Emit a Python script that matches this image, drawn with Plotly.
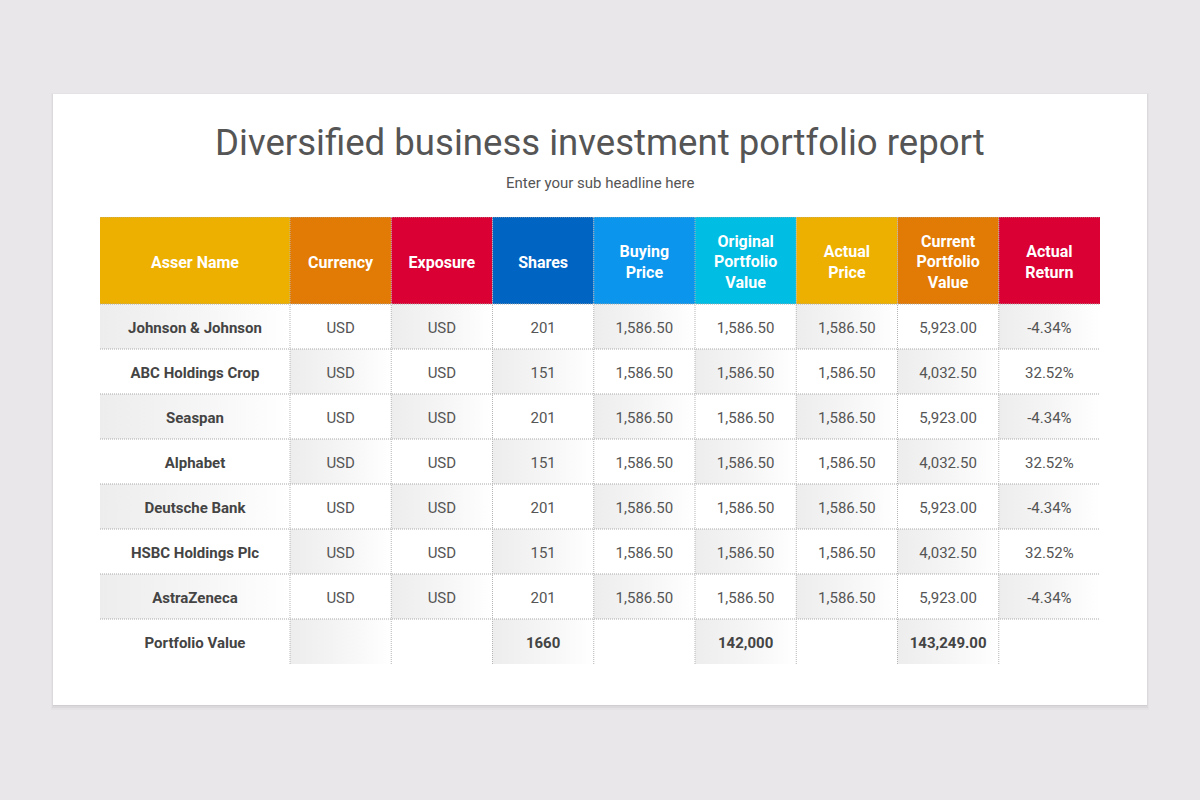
import plotly.graph_objects as go

# data
headers = ["Asser Name", "Currency", "Exposure", "Shares", "Buying<br>Price",
           "Original<br>Portfolio<br>Value", "Actual<br>Price",
           "Current<br>Portfolio<br>Value", "Actual<br>Return"]
header_colors = ["#EDB001", "#E27B05", "#DA0034", "#0064C3", "#0B95EC",
                 "#00BDE3", "#EDB001", "#E27B05", "#DA0034"]

assets = ["Johnson & Johnson", "ABC Holdings Crop", "Seaspan", "Alphabet",
          "Deutsche Bank", "HSBC Holdings Plc", "AstraZeneca"]
currency = ["USD", "USD", "USD", "USD", "USD", "USD", "USD"]
exposure = ["USD", "USD", "USD", "USD", "USD", "USD", "USD"]
shares = [201, 151, 201, 151, 201, 151, 201]
buying_price = [1586.50, 1586.50, 1586.50, 1586.50, 1586.50, 1586.50, 1586.50]
original_value = [1586.50, 1586.50, 1586.50, 1586.50, 1586.50, 1586.50, 1586.50]
actual_price = [1586.50, 1586.50, 1586.50, 1586.50, 1586.50, 1586.50, 1586.50]
current_value = [5923.00, 4032.50, 5923.00, 4032.50, 5923.00, 4032.50, 5923.00]
actual_return = [-4.34, 32.52, -4.34, 32.52, -4.34, 32.52, -4.34]

total_label = "Portfolio Value"
total_shares = 1660
total_original = 142000
total_current = 143249.00

money = lambda v: f"{v:,.2f}"

columns = [
    assets + [total_label],
    currency + [""],
    exposure + [""],
    [str(s) for s in shares] + [str(total_shares)],
    [money(v) for v in buying_price] + [""],
    [money(v) for v in original_value] + [f"{total_original:,}"],
    [money(v) for v in actual_price] + [""],
    [money(v) for v in current_value] + [money(total_current)],
    [f"{v:.2f}%" for v in actual_return] + [""],
]

# layout of the grid (table units = pixels)
col_w = [190] + [101.25] * 8
row_h = [87] + [45] * len(columns[0])
xe = [0]
for w in col_w:
    xe.append(xe[-1] + w)
ye = [0]
for h in row_h:
    ye.append(ye[-1] + h)
n_rows = len(columns[0])
n_cols = len(columns)
text_dy = 2.5  # nudge text down to sit in the middle of the cell

fig = go.Figure()

# header cells
for c in range(n_cols):
    fig.add_trace(go.Scatter(
        x=[xe[c], xe[c + 1], xe[c + 1], xe[c], xe[c]],
        y=[ye[0], ye[0], ye[1], ye[1], ye[0]],
        mode="lines", line_width=0, fill="toself", fillcolor=header_colors[c],
        hoverinfo="skip"))

# shaded body cells (checkerboard, light grey fading to white)
for c in range(n_cols):
    for r in range(n_rows):
        if (r + c) % 2 == 0:
            fig.add_trace(go.Scatter(
                x=[xe[c], xe[c + 1], xe[c + 1], xe[c], xe[c]],
                y=[ye[r + 1], ye[r + 1], ye[r + 2], ye[r + 2], ye[r + 1]],
                mode="lines", line_width=0, fill="toself",
                fillgradient=dict(type="horizontal",
                                  colorscale=[[0, "#ededed"], [0.5, "#f5f5f5"], [1, "#ffffff"]]),
                hoverinfo="skip"))

# header text
fig.add_trace(go.Scatter(
    x=[(xe[c] + xe[c + 1]) / 2 for c in range(n_cols)],
    y=[(ye[0] + ye[1]) / 2 + text_dy + 0.5] * n_cols,
    text=[f"<b>{h}</b>" for h in headers],
    mode="text", textposition="middle center",
    textfont=dict(family="Roboto", size=16, color="#ffffff"),
    hoverinfo="skip"))

# body text
tx, ty, tt, tc = [], [], [], []
for c in range(n_cols):
    for r in range(n_rows):
        s = columns[c][r]
        if s == "":
            continue
        tx.append((xe[c] + xe[c + 1]) / 2)
        ty.append((ye[r + 1] + ye[r + 2]) / 2 + text_dy)
        tt.append(f"<b>{s}</b>" if (c == 0 or r == n_rows - 1) else s)
        tc.append("#444444" if (c == 0 or r == n_rows - 1) else "#555555")
fig.add_trace(go.Scatter(
    x=tx, y=ty, text=tt, mode="text", textposition="middle center",
    textfont=dict(family="Roboto", size=15, color=tc),
    hoverinfo="skip"))

# dotted grid lines
for r in range(n_rows + 1):
    fig.add_shape(type="line", xref="x", yref="y", x0=xe[0], x1=xe[-1], y0=ye[r], y1=ye[r],
                  line=dict(color="#a9a9a9", width=1, dash="1px,1px"))
for c in range(1, n_cols):
    fig.add_shape(type="line", xref="x", yref="y", x0=xe[c], x1=xe[c], y0=ye[0], y1=ye[-1],
                  line=dict(color="#b5b5b5", width=1, dash="1px,1px"))

# card with soft shadow
for i, a in enumerate([0.05, 0.035, 0.02]):
    fig.add_shape(type="rect", xref="paper", yref="paper",
                  x0=(53 - i) / 1200, x1=(1147 + i) / 1200,
                  y0=1 - (706 + 2 * i) / 800, y1=1 - (95 - i) / 800,
                  fillcolor=f"rgba(0,0,0,{a})", line_width=0, layer="below")
fig.add_shape(type="rect", xref="paper", yref="paper",
              x0=53 / 1200, x1=1147 / 1200, y0=1 - 705 / 800, y1=1 - 94 / 800,
              fillcolor="#ffffff", line_width=0, layer="below")

fig.add_annotation(text="Diversified business investment portfolio report",
                   xref="paper", yref="paper", x=0.5, y=1 - 142 / 800, yanchor="middle",
                   showarrow=False, font=dict(family="Roboto", size=36.6, color="#555555"))
fig.add_annotation(text="Enter your sub headline here",
                   xref="paper", yref="paper", x=0.5, y=1 - 183 / 800, yanchor="middle",
                   showarrow=False, font=dict(family="Roboto", size=15, color="#555555"))

fig.update_layout(
    width=1200, height=800,
    margin=dict(l=0, r=0, t=0, b=0),
    paper_bgcolor="#e9e7e9",
    plot_bgcolor="rgba(0,0,0,0)",
    showlegend=False,
    xaxis=dict(domain=[100 / 1200, 1100 / 1200], range=[xe[0], xe[-1]], visible=False, fixedrange=True),
    yaxis=dict(domain=[1 - 664 / 800, 1 - 217 / 800], range=[ye[-1], ye[0]], visible=False, fixedrange=True),
)

fig.write_html("out.html", config=dict(displayModeBar=False),
               post_script="document.body.style.margin='0';")
